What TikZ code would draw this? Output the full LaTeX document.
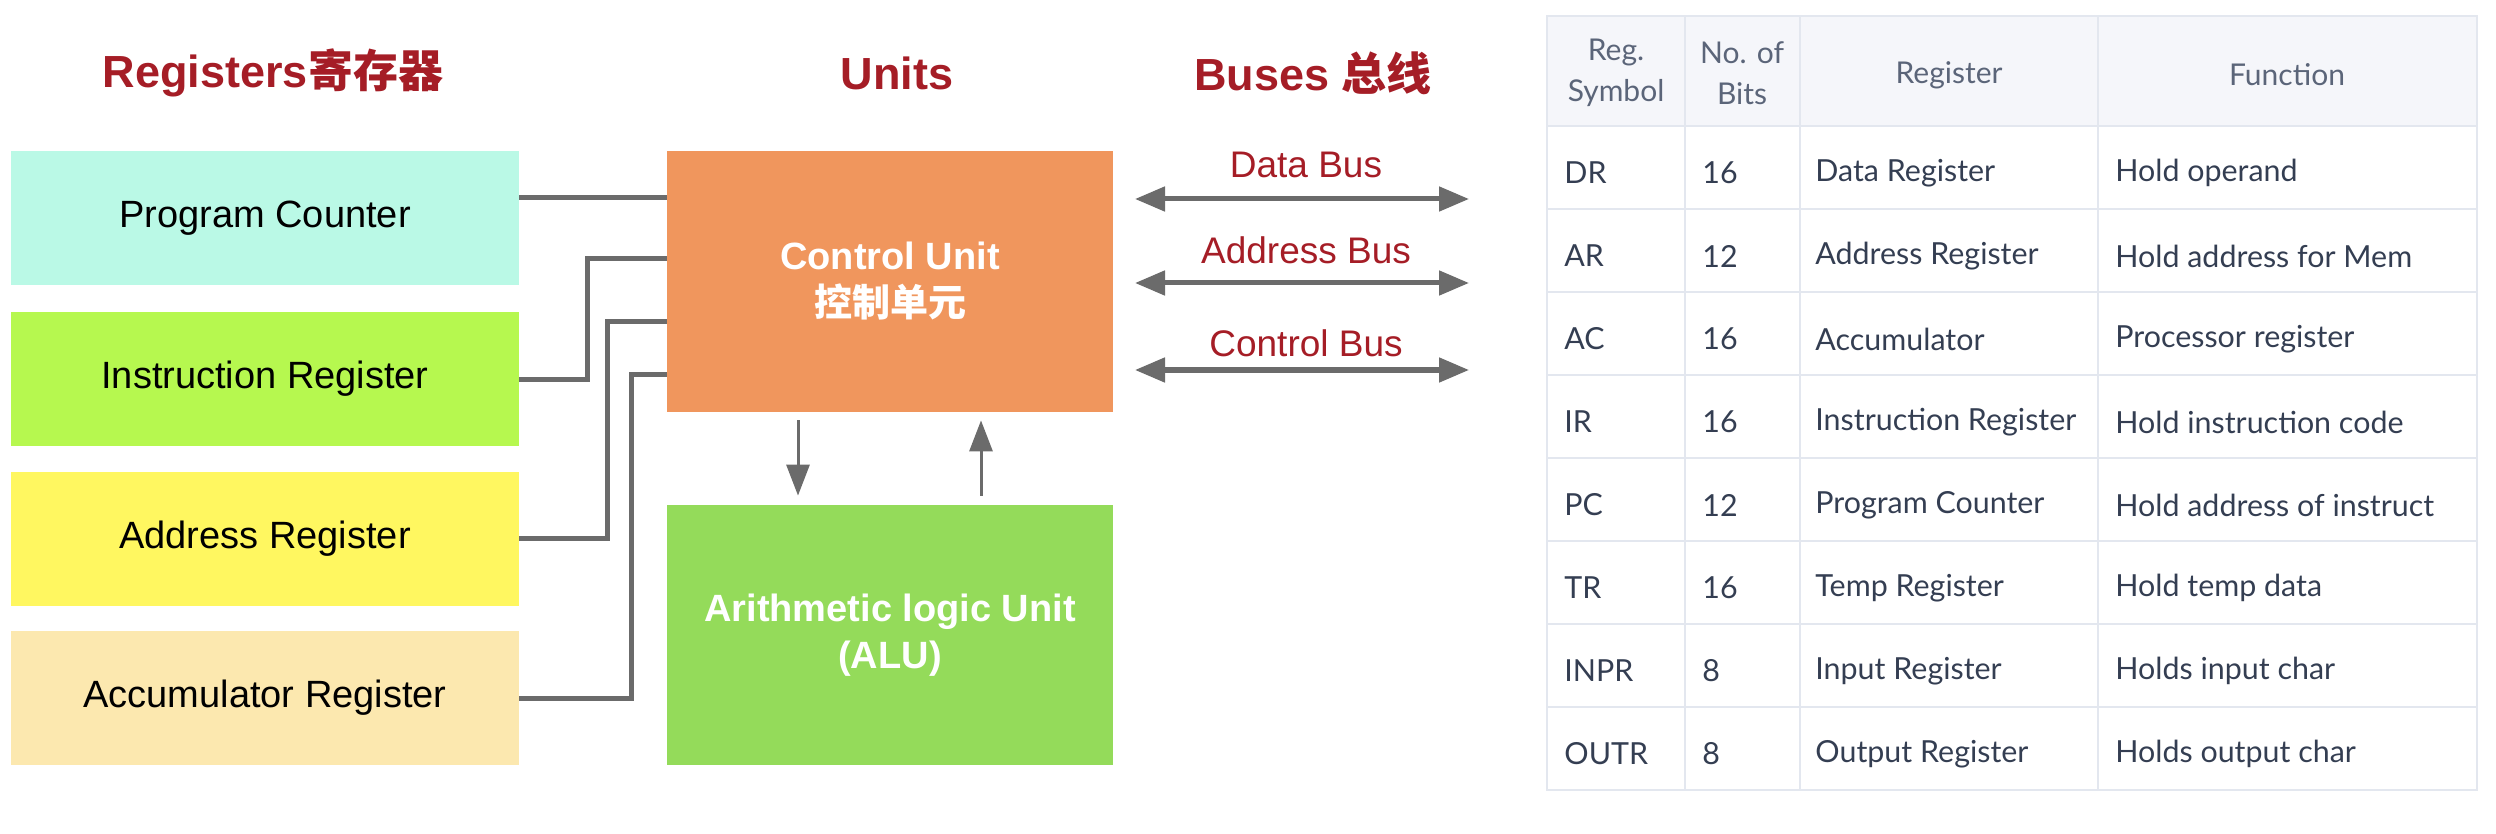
\documentclass[tikz,border=0pt]{standalone}
\usepackage{fontspec}
\setmainfont{Liberation Sans}
\newfontfamily\cjk{Noto Sans CJK SC}
\newfontfamily\tabfont{Lato}
\usetikzlibrary{arrows.meta}

\definecolor{titlered}{HTML}{A51D26}
\definecolor{pcfill}{HTML}{BAF9E6}
\definecolor{irfill}{HTML}{B6F84F}
\definecolor{arfill}{HTML}{FFF760}
\definecolor{accfill}{HTML}{FCE8AF}
\definecolor{cufill}{HTML}{F0965D}
\definecolor{alufill}{HTML}{94DB5A}
\definecolor{wiregray}{HTML}{6B6B6B}
\definecolor{headbg}{HTML}{F5F6FA}
\definecolor{gridline}{HTML}{E3E7EF}
\definecolor{headtext}{HTML}{5B6579}
\definecolor{bodytext}{HTML}{343E52}

\tikzset{
  regbox/.style={minimum width=254pt, minimum height=67pt, inner sep=0pt, font=\fontsize{19}{22}\selectfont},
  unitbox/.style={minimum width=223pt, inner sep=0pt, text=white, align=center, font=\bfseries\fontsize{19}{23.5}\selectfont},
  heading/.style={text=titlered, font=\bfseries\fontsize{22.5}{26}\selectfont},
  buslabel/.style={text=titlered, font=\fontsize{18.5}{22}\selectfont},
  link/.style={wiregray, line width=2.5pt},
  bus/.style={wiregray, line width=2.5pt, {Triangle[length=15pt,width=12pt]}-{Triangle[length=15pt,width=12pt]}},
  flow/.style={wiregray, line width=1.5pt, -{Triangle[length=15.5pt,width=11.5pt]}},
  cell/.style={anchor=west, inner sep=0pt, text=bodytext, font=\tabfont\fontsize{15.2}{18}\selectfont},
  headcell/.style={inner sep=0pt, align=center, text=headtext, font=\tabfont\fontsize{15}{20.5}\selectfont},
  grid/.style={gridline, line width=1pt}
}

\begin{document}
\begin{tikzpicture}[x=0.5pt,y=0.5pt,yscale=-1,xscale=1]
\useasboundingbox (0,0) rectangle (2496,834);

% Headings
\node[heading] (hreg) at (273,73) {Registers{\cjk 寄存器}};
\node[heading] (hunit) at (897,73) {Units};
\node[heading] (hbus) at (1313,73) {Buses {\cjk 总线}};

% Registers
\node[regbox, fill=pcfill] (pc) at (265,218) {Program Counter};
\node[regbox, fill=irfill] (ir) at (265,379) {Instruction Register};
\node[regbox, fill=arfill] (ar) at (265,538.5) {Address Register};
\node[regbox, fill=accfill] (acc) at (265,698) {Accumulator Register};

% Units
\node[unitbox, fill=cufill, minimum height=130.5pt] (cu) at (890,281.5) {Control Unit\\{\cjk 控制单元}};
\node[unitbox, fill=alufill, minimum height=130pt] (alu) at (890,635) {Arithmetic logic Unit\\(ALU)};

% Register wires
\draw[link] (pc.east |- 0,198) -- (cu.west |- 0,198);
\draw[link] (ir.east) -| (587,259) -- (cu.west |- 0,259);
\draw[link] (ar.east) -| (607,322) -- (cu.west |- 0,322);
\draw[link] (acc.east) -| (631,374) -- (cu.west |- 0,374);

% CU <-> ALU
\draw[flow, shorten <=4pt, shorten >=4.5pt] (cu.south -| 798,0) -- (alu.north -| 798,0);
\draw[flow, shorten <=4.5pt, shorten >=4pt] (alu.north -| 981,0) -- (cu.south -| 981,0);

% Buses
\coordinate (db1) at (1135,199);
\coordinate (db2) at (1469,199);
\coordinate (ab1) at (1135,283);
\coordinate (ab2) at (1469,283);
\coordinate (cb1) at (1135,370);
\coordinate (cb2) at (1469,370);
\draw[bus] (db1) -- (db2);
\draw[bus] (ab1) -- (ab2);
\draw[bus] (cb1) -- (cb2);
\node[buslabel] (ldb) at (1306,165) {Data Bus};
\node[buslabel] (lab) at (1306,250) {Address Bus};
\node[buslabel] (lcb) at (1306,343) {Control Bus};

% Table
\fill[headbg] (1547,16) rectangle (2477,126);
\foreach \y in {126,209,...,707}
  \draw[grid] (1547,\y) -- (2477,\y);
\foreach \x in {1685,1800,2098}
  \draw[grid] (\x,16) -- (\x,790);
\draw[grid] (1547,16) rectangle (2477,790);

\node[headcell] (h1) at (1616,73) {Reg.\\Symbol};
\node[headcell] (h2) at (1742,73) {No. of\\Bits};
\node[headcell] (h3) at (1949,75) {Register};
\node[headcell] (h4) at (2287,75) {Function};

\foreach \sym/\bits/\reg/\fun [count=\i] in {
  DR/16/Data Register/Hold operand,
  AR/12/Address Register/Hold address for Mem,
  AC/16/Accumulator/Processor register,
  IR/16/Instruction Register/Hold instruction code,
  PC/12/Program Counter/Hold address of instruct,
  TR/16/Temp Register/Hold temp data,
  INPR/8/Input Register/Holds input char,
  OUTR/8/Output Register/Holds output char}
{
  \node[cell] (sym\i) at (1564,90+83*\i) {\sym};
  \node[cell] (bits\i) at (1702,90+83*\i) {\bits};
  \node[cell] (reg\i) at (1815,90+83*\i) {\reg};
  \node[cell] (fun\i) at (2115,90+83*\i) {\fun};
}

\end{tikzpicture}
\end{document}
